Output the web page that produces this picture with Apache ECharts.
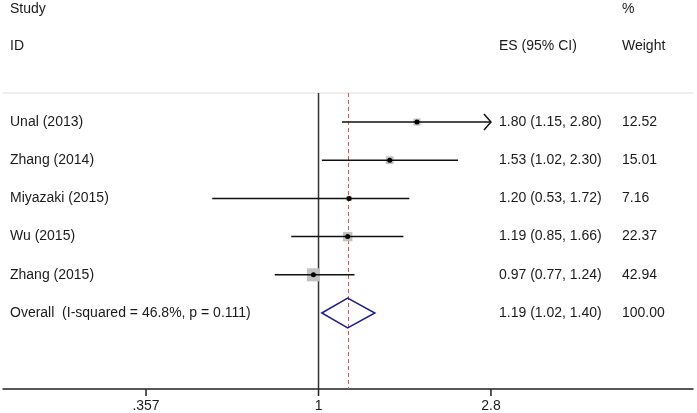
<!DOCTYPE html>
<html>
<head>
<meta charset="utf-8">
<script src="https://cdn.jsdelivr.net/npm/echarts@6/dist/echarts.min.js"></script>
<style>
html,body{margin:0;padding:0;background:#fff;}
#chart{width:697px;height:413px;}
</style>
</head>
<body>
<div id="chart"></div>
<script>
// ---- data ----
const studies = ['Unal (2013)', 'Zhang (2014)', 'Miyazaki (2015)', 'Wu (2015)', 'Zhang (2015)'];
const es = [1.80, 1.53, 1.20, 1.19, 0.97];
const lower = [1.15, 1.02, 0.53, 0.85, 0.77];
const upper = [2.80, 2.30, 1.72, 1.66, 1.24];
const weights = [12.52, 15.01, 7.16, 22.37, 42.94];
const esText = ['1.80 (1.15, 2.80)', '1.53 (1.02, 2.30)', '1.20 (0.53, 1.72)', '1.19 (0.85, 1.66)', '0.97 (0.77, 1.24)'];
const weightText = ['12.52', '15.01', '7.16', '22.37', '42.94'];

const overallLabel = 'Overall  (I-squared = 46.8%, p = 0.111)';
const overallES = 1.19;
const overallLower = 1.02;
const overallUpper = 1.40;
const overallESText = '1.19 (1.02, 1.40)';
const overallWeightText = '100.00';

const tickValues = [0.357, 1, 2.8];
const tickLabels = ['.357', '1', '2.8'];
const nullValue = 1;

// ---- styling ----
const FONT = 'Liberation Sans, Arial, sans-serif';
const TXT = '#1a1a1a';
const FS = 14;
const ln = Math.log;
const arrowLimit = tickValues[tickValues.length - 1];
const Y_MIN = -0.76, Y_MAX = 6.99;

const studyData = studies.map((s, i) => [ln(es[i]), i, ln(lower[i]), ln(upper[i]), weights[i], i]);
const overallRow = studies.length;

function txt(text, x, y) {
  return { type: 'text', style: { text: text, x: x, y: y, fill: TXT, fontSize: FS, fontFamily: FONT,
    align: 'left', verticalAlign: 'middle', textAlign: 'left', textVerticalAlign: 'middle' } };
}

const chart = echarts.init(document.getElementById('chart'), null, { renderer: 'canvas' });
const option = {
  backgroundColor: '#fff',
  animation: false,
  grid: { left: 3, right: 4, top: 93, bottom: 24, containLabel: false },
  xAxis: {
    type: 'value',
    min: -1.884, max: 2.236,
    splitLine: { show: false },
    axisLine: { show: true, onZero: false, lineStyle: { color: '#222', width: 1.5 } },
    axisTick: { show: false },
    axisLabel: { show: true, margin: 10, color: TXT, fontSize: FS, fontFamily: FONT,
      customValues: tickValues.map(v => ln(v)),
      formatter: function (v) {
        let best = 0, bd = Infinity;
        tickValues.forEach((t, k) => { const d = Math.abs(ln(t) - v); if (d < bd) { bd = d; best = k; } });
        return tickLabels[best];
      } }
  },
  yAxis: {
    type: 'value', inverse: true, min: Y_MIN, max: Y_MAX,
    show: false, splitLine: { show: false }
  },
  graphic: [
    { type: 'line', shape: { x1: 3, y1: 93, x2: 693, y2: 93 }, style: { stroke: '#e4dcdc', lineWidth: 1 }, z: 1 },
    { type: 'text', style: { text: 'Study', x: 10, y: 9, fill: TXT, fontSize: FS, fontFamily: FONT, textAlign: 'left', textVerticalAlign: 'middle', align: 'left', verticalAlign: 'middle' } },
    { type: 'text', style: { text: 'ID', x: 10, y: 46, fill: TXT, fontSize: FS, fontFamily: FONT, textAlign: 'left', textVerticalAlign: 'middle', align: 'left', verticalAlign: 'middle' } },
    { type: 'text', style: { text: 'ES (95% CI)', x: 499, y: 46, fill: TXT, fontSize: FS, fontFamily: FONT, textAlign: 'left', textVerticalAlign: 'middle', align: 'left', verticalAlign: 'middle' } },
    { type: 'text', style: { text: '%', x: 622, y: 9, fill: TXT, fontSize: FS, fontFamily: FONT, textAlign: 'left', textVerticalAlign: 'middle', align: 'left', verticalAlign: 'middle' } },
    { type: 'text', style: { text: 'Weight', x: 622, y: 46, fill: TXT, fontSize: FS, fontFamily: FONT, textAlign: 'left', textVerticalAlign: 'middle', align: 'left', verticalAlign: 'middle' } }
  ],
  series: [
    {
      // reference lines (null effect, overall effect) and axis ticks
      type: 'custom',
      name: 'refs',
      clip: false,
      z: 2,
      data: [[ln(nullValue), 0], [ln(overallES), 1]].concat(tickValues.map(v => [ln(v), 2])),
      renderItem: function (params, api) {
        const kind = api.value(1);
        const top = api.coord([api.value(0), Y_MIN]);
        const bot = api.coord([api.value(0), Y_MAX]);
        if (kind === 0) {
          return { type: 'line', shape: { x1: top[0], y1: top[1], x2: bot[0], y2: bot[1] },
            style: { stroke: '#333', lineWidth: 1.5 } };
        } else if (kind === 1) {
          const xs = Math.round(top[0]) + 0.5;
          return { type: 'line', shape: { x1: xs, y1: top[1], x2: xs, y2: bot[1] },
            style: { stroke: '#e0505a', lineWidth: 1, lineDash: [4, 3] } };
        }
        return { type: 'line', shape: { x1: bot[0], y1: bot[1], x2: bot[0], y2: bot[1] + 7 },
          style: { stroke: '#222', lineWidth: 1.5 } };
      }
    },
    {
      type: 'custom',
      name: 'studies',
      clip: false,
      z: 3,
      data: studyData,
      renderItem: function (params, api) {
        const row = api.value(1);
        const i = api.value(5);
        const p = api.coord([api.value(0), row]);
        const l = api.coord([api.value(2), row]);
        const h = api.coord([api.value(3), row]);
        const side = 2.0 * Math.sqrt(api.value(4));
        const children = [
          { type: 'rect', shape: { x: p[0] - side / 2, y: p[1] - side / 2, width: side, height: side },
            style: { fill: '#c2c2c2' } },
          { type: 'line', shape: { x1: l[0], y1: l[1], x2: h[0], y2: h[1] },
            style: { stroke: '#111', lineWidth: 1.5 } },
          { type: 'circle', shape: { cx: p[0], cy: p[1], r: 2.5 }, style: { fill: '#000' } }
        ];
        if (upper[i] >= arrowLimit) {
          children.push({ type: 'polyline', shape: { points: [[h[0] - 7, h[1] - 8], [h[0], h[1]], [h[0] - 7, h[1] + 8]] },
            style: { stroke: '#111', lineWidth: 1.5, fill: null } });
        }
        children.push(txt(studies[i], 10, p[1]));
        children.push(txt(esText[i], 499, p[1]));
        children.push(txt(weightText[i], 622, p[1]));
        return { type: 'group', children: children };
      }
    },
    {
      type: 'custom',
      name: 'overall',
      clip: false,
      z: 3,
      data: [[ln(overallES), overallRow, ln(overallLower), ln(overallUpper)]],
      renderItem: function (params, api) {
        const row = api.value(1);
        const p = api.coord([api.value(0), row]);
        const l = api.coord([api.value(2), row]);
        const h = api.coord([api.value(3), row]);
        const hh = 15;
        return { type: 'group', children: [
          { type: 'polygon', shape: { points: [[l[0], l[1]], [p[0], p[1] - hh], [h[0], h[1]], [p[0], p[1] + hh]] },
            style: { stroke: '#1f1f8a', lineWidth: 1.5, fill: null } },
          txt(overallLabel, 10, p[1]),
          txt(overallESText, 499, p[1]),
          txt(overallWeightText, 622, p[1])
        ] };
      }
    }
  ]
};
chart.setOption(option);
</script>
</body>
</html>
